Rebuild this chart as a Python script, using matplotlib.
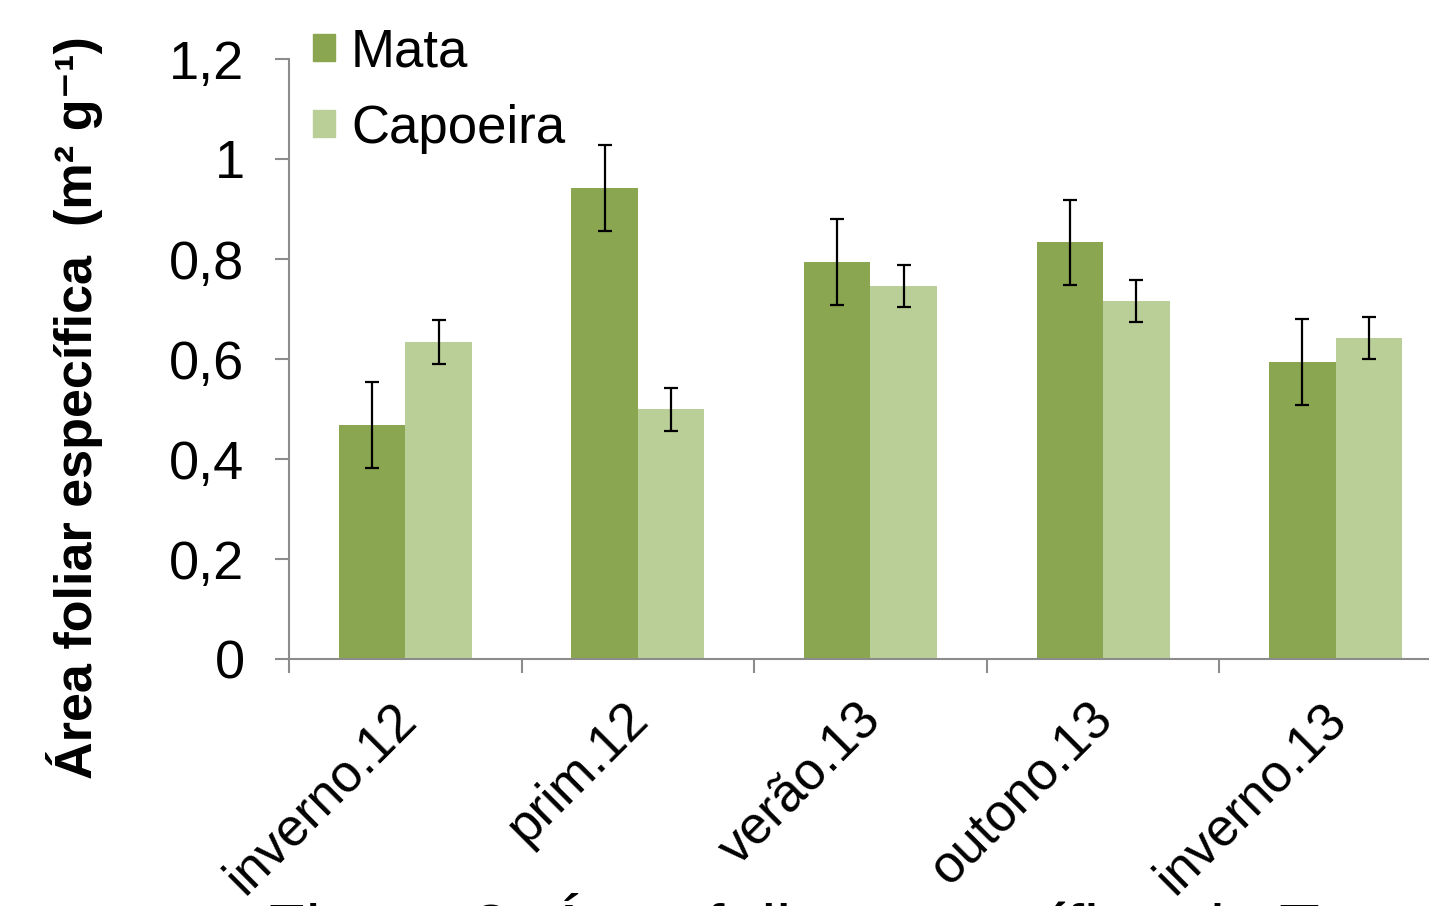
import numpy as np
import matplotlib.pyplot as plt
from matplotlib.patches import Patch
from matplotlib.transforms import ScaledTranslation

plt.rcParams['font.family'] = ['Liberation Sans', 'DejaVu Sans']

## dados ##
estacoes = ['inverno.12', 'prim.12', 'verão.13', 'outono.13', 'inverno.13']
mata = [0.468, 0.942, 0.794, 0.834, 0.594]
mata_err = [0.086, 0.086, 0.086, 0.085, 0.086]
capoeira = [0.634, 0.500, 0.746, 0.716, 0.642]
capoeira_err = [0.044, 0.043, 0.042, 0.042, 0.042]
yticks = [0, 0.2, 0.4, 0.6, 0.8, 1.0, 1.2]
ytick_labels = ['0', '0,2', '0,4', '0,6', '0,8', '1', '1,2']

cor_mata = '#8aa650'
cor_capoeira = '#bacf97'
cinza = '#8c8c8c'

fig = plt.figure(figsize=(14.29, 9.06), dpi=100)
ax = fig.add_axes([289/1429, 1 - 659/906, 1163/1429, 600/906])

x = np.arange(len(estacoes))
w = 0.286
ax.bar(x - w/2, mata, w, color=cor_mata, yerr=mata_err,
       error_kw=dict(ecolor='black', elinewidth=1.6, capsize=5, capthick=1.6))
ax.bar(x + w/2, capoeira, w, color=cor_capoeira, yerr=capoeira_err,
       error_kw=dict(ecolor='black', elinewidth=1.6, capsize=5, capthick=1.6))

ax.set_xlim(-0.5, len(estacoes) - 0.5)
ax.set_ylim(0, 1.2)
ax.set_yticks(yticks)
ax.set_yticklabels(ytick_labels, fontsize=39)

ax.set_xticks(x)
ax.set_xticklabels(estacoes, fontsize=38, rotation=45, ha='right',
                   rotation_mode='anchor')
ax.set_xticks(np.arange(-0.5, len(estacoes)), minor=True)
ax.tick_params(axis='x', which='major', length=0, pad=22)
ax.tick_params(axis='x', which='minor', length=10, width=1.5, color=cinza,
               direction='out')
ax.tick_params(axis='y', length=10, width=1.5, color=cinza, pad=22)

# desloca os rotulos um pouco para a esquerda/baixo (depois do tick_params)
desloc = ScaledTranslation(-15/100, -4/100, fig.dpi_scale_trans)
for lab in ax.get_xticklabels():
    lab.set_transform(lab.get_transform() + desloc)

for s in ['top', 'right']:
    ax.spines[s].set_visible(False)
for s in ['left', 'bottom']:
    ax.spines[s].set_color(cinza)
    ax.spines[s].set_linewidth(1.5)
ax.patch.set_alpha(0)

handles = [Patch(color=cor_mata), Patch(color=cor_capoeira)]
fig.legend(handles, ['Mata', 'Capoeira'], loc='upper left',
           bbox_to_anchor=(292/1429, 1 - 6/906), frameon=False,
           fontsize=38, handlelength=0.42, handleheight=0.42,
           handletextpad=0.3, labelspacing=0.5, borderaxespad=0)

fig.text(75/1429, 1 - 408/906, 'Área foliar específica  (m² g⁻¹)',
         rotation=90, fontsize=37.5, fontweight='bold', ha='center', va='center')

fig.text(265/1429, 1 - 893/906, 'Figura 3: Área foliar específica do T',
         fontsize=48, ha='left', va='top')

plt.savefig('out.png', dpi=100)
